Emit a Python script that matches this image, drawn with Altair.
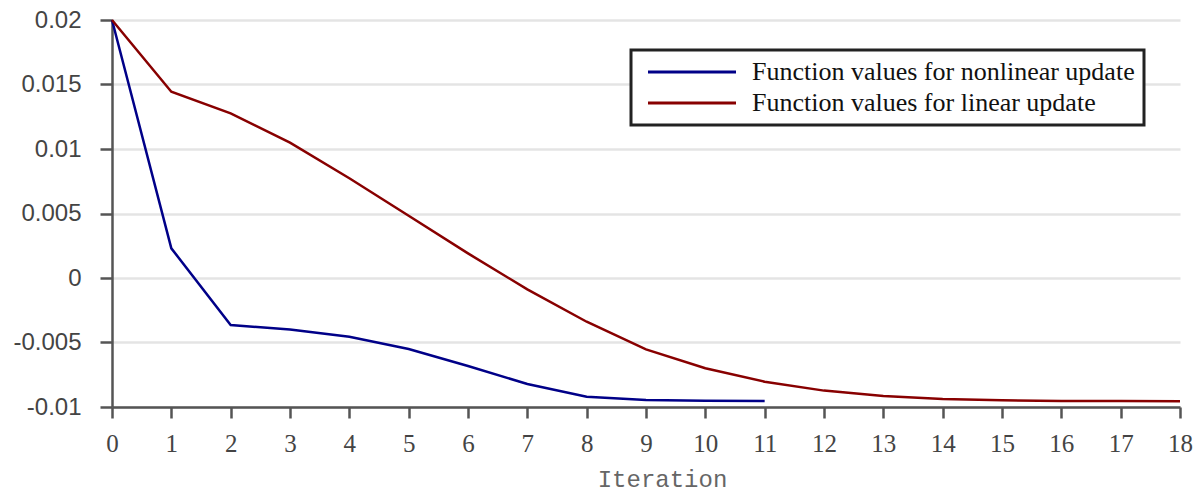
import altair as alt
import pandas as pd

iterations_nonlinear = list(range(12))
values_nonlinear = [0.02, 0.0023, -0.00364, -0.0040, -0.00455, -0.0055, -0.00682,
                    -0.00822, -0.0092, -0.00946, -0.00951, -0.00953]

iterations_linear = list(range(19))
values_linear = [0.02, 0.01444, 0.01276, 0.01049, 0.00773, 0.00483, 0.00191,
                 -0.00088, -0.00339, -0.00553, -0.0070, -0.00804, -0.00873,
                 -0.00915, -0.00938, -0.00948, -0.00953, -0.00954, -0.00955]

series_names = ["Function values for nonlinear update", "Function values for linear update"]
series_colors = ["#000088", "#880000"]

rows = []
for it, v in zip(iterations_nonlinear, values_nonlinear):
    rows.append({"Iteration": it, "value": v, "series": series_names[0]})
for it, v in zip(iterations_linear, values_linear):
    rows.append({"Iteration": it, "value": v, "series": series_names[1]})
df = pd.DataFrame(rows)

x_ticks = list(range(19))
y_ticks = [-0.01, -0.005, 0, 0.005, 0.01, 0.015, 0.02]

axis_color = "#555555"
label_color = "#444444"

chart = alt.Chart(df).mark_line(strokeWidth=2.5).encode(
    x=alt.X("Iteration:Q",
            scale=alt.Scale(domain=[0, 18], nice=False, zero=False),
            axis=alt.Axis(values=x_ticks, title="Iteration", grid=False,
                          labelFlush=False, labelOverlap=False,
                          domainColor=axis_color, domainWidth=2.5,
                          tickColor=axis_color, tickWidth=2.5, tickSize=11,
                          labelFont="Liberation Sans Narrow", labelFontSize=25,
                          labelColor=label_color, labelPadding=13,
                          titleFont="Liberation Mono", titleFontSize=24,
                          titleFontWeight="normal", titleColor="#666666",
                          titleX=550, titleY=79, titleBaseline="alphabetic",
                          titleAlign="center")),
    y=alt.Y("value:Q",
            scale=alt.Scale(domain=[-0.01, 0.02], nice=False, zero=False),
            axis=alt.Axis(values=y_ticks, title=None, grid=True,
                          gridColor="#e4e4e4", gridWidth=2.5,
                          labelExpr="replace(format(datum.value, '~g'), '\u2212', '-')",
                          domainColor=axis_color, domainWidth=2.5,
                          tickColor=axis_color, tickWidth=2.5, tickSize=12,
                          labelFont="Liberation Sans", labelFontSize=24,
                          labelColor=label_color, labelPadding=19)),
    color=alt.Color("series:N",
                    scale=alt.Scale(domain=series_names, range=series_colors),
                    legend=alt.Legend(title=None, orient="none", legendX=519, legendY=30,
                                      symbolType="M-4,0H4", symbolSize=484,
                                      symbolStrokeWidth=3, symbolOffset=39,
                                      labelFont="Liberation Serif", labelFontSize=26,
                                      labelColor="#111111", labelOffset=47,
                                      labelLimit=700,
                                      rowPadding=5,
                                      padding=9, strokeColor="#222222",
                                      fillColor="white")),
).properties(
    width=1068,
    height=387,
    autosize=alt.AutoSizeParams(type="none"),
    padding={"left": 112, "top": 20, "right": 16, "bottom": 88},
).configure_view(
    stroke=None
).configure_legend(
    strokeWidth=3
)

chart.save("out.html", embed_options={"renderer": "svg", "actions": False})
